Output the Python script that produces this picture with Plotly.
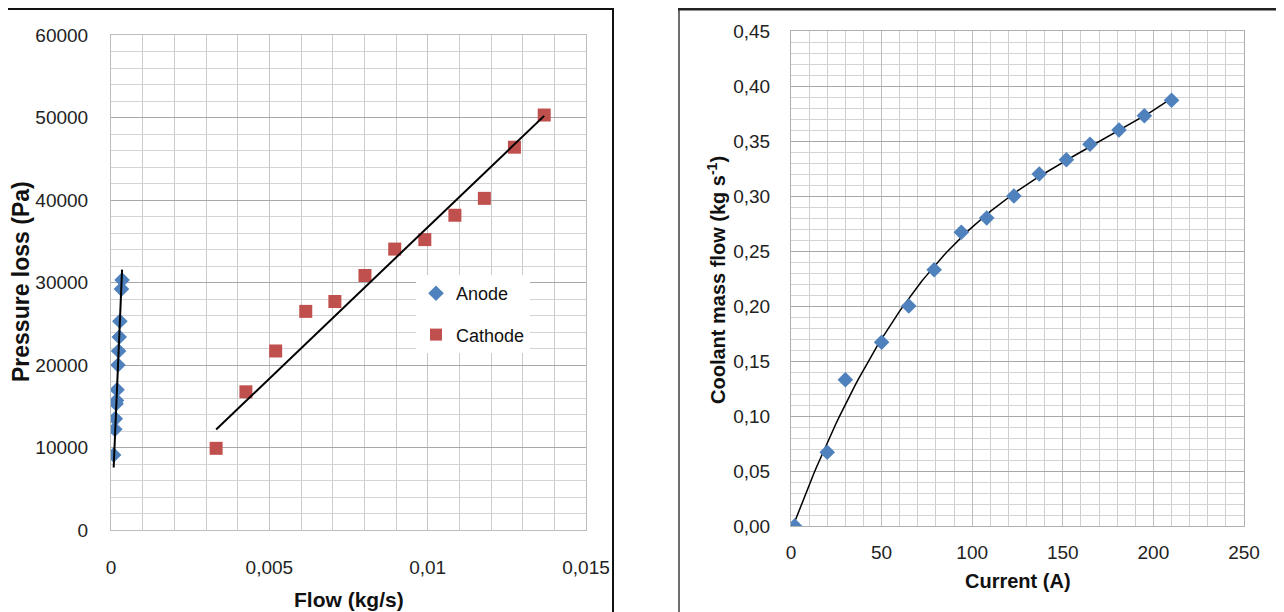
import numpy as np
import plotly.graph_objects as go

# ---------------- data: left chart ----------------
anode_flow = [0.000084, 0.00012, 0.000135, 0.00016, 0.000175, 0.00019, 0.00022, 0.00024,
              0.00026, 0.00028, 0.00033, 0.00035]
anode_dp = [9100, 12200, 13500, 15300, 15700, 17000, 20000, 21700, 23400, 25300, 29200, 30300]

cathode_flow = [0.00332, 0.00426, 0.00520, 0.00615, 0.00707, 0.00802, 0.00896, 0.00991,
                0.01086, 0.01179, 0.01274, 0.01368]
cathode_dp = [9900, 16750, 21700, 26500, 27700, 30850, 34050, 35200, 38150, 40200, 46400, 50300]

# ---------------- data: right chart ----------------
current_a = [2, 20, 30, 50, 65, 79, 94, 108, 123, 137, 152, 165, 181, 195, 210]
coolant_flow = [0.000, 0.067, 0.133, 0.167, 0.200, 0.233, 0.267, 0.280, 0.300, 0.320,
                0.333, 0.347, 0.360, 0.373, 0.387]

left_xticks = [0, 0.005, 0.01, 0.015]
left_xtext = ["0", "0,005", "0,01", "0,015"]
left_yticks = [0, 10000, 20000, 30000, 40000, 50000, 60000]
left_ytext = ["0", "10000", "20000", "30000", "40000", "50000", "60000"]
right_xticks = [0, 50, 100, 150, 200, 250]
right_yticks = [0, 0.05, 0.10, 0.15, 0.20, 0.25, 0.30, 0.35, 0.40, 0.45]
right_ytext = ["0,00", "0,05", "0,10", "0,15", "0,20", "0,25", "0,30", "0,35", "0,40", "0,45"]

# the page body has an 8px margin, so the figure sits at (8, 8) in the window
OFF = 8
W, H = 1284 - OFF, 612 - OFF
BLUE = "#4F81BD"
RED = "#C0504D"


def px_x(p):
    return (p - OFF) / W


def px_y(p):
    return 1 - (p - OFF) / H


# trendlines fitted from the data (linear with zero intercept, polynomial)
def origin_trend(x, y):
    x = np.asarray(x, float)
    y = np.asarray(y, float)
    slope = (x * y).sum() / (x * x).sum()
    xs = np.array([x.min(), x.max()])
    return xs, slope * xs


def poly_trend(x, y, order):
    c = np.polyfit(x, y, order)
    xs = np.linspace(min(x), max(x), 120)
    return xs, np.polyval(c, xs)


ax_x, ax_y = origin_trend(anode_flow, anode_dp)
ca_x, ca_y = origin_trend(cathode_flow, cathode_dp)
cu_x, cu_y = poly_trend(current_a, coolant_flow, 3)

fig = go.Figure()

fig.add_trace(go.Scatter(x=anode_flow, y=anode_dp, mode="markers", name="Anode",
                         marker=dict(symbol="diamond", size=12, color=BLUE),
                         xaxis="x", yaxis="y", legendgroup="a"))
fig.add_trace(go.Scatter(x=cathode_flow, y=cathode_dp, mode="markers", name="Cathode",
                         marker=dict(symbol="square", size=13, color=RED),
                         xaxis="x", yaxis="y", legendgroup="c"))
fig.add_trace(go.Scatter(x=ax_x, y=ax_y, mode="lines", line=dict(color="black", width=2),
                         showlegend=False, xaxis="x", yaxis="y", hoverinfo="skip"))
fig.add_trace(go.Scatter(x=ca_x, y=ca_y, mode="lines", line=dict(color="black", width=2),
                         showlegend=False, xaxis="x", yaxis="y", hoverinfo="skip"))

fig.add_trace(go.Scatter(x=cu_x, y=cu_y, mode="lines", line=dict(color="black", width=1.5),
                         showlegend=False, xaxis="x2", yaxis="y2", hoverinfo="skip"))
fig.add_trace(go.Scatter(x=current_a, y=coolant_flow, mode="markers", name="Coolant",
                         marker=dict(symbol="diamond", size=12, color=BLUE),
                         showlegend=False, xaxis="x2", yaxis="y2"))

TICKFONT_L = dict(family="Liberation Sans, Arial", size=19, color="#222")
TICKFONT_R = dict(family="Liberation Sans, Arial", size=19, color="#222")
MAJ = "#a8a8a8"
MIN = "#d4d4d4"

fig.update_layout(
    width=W, height=H,
    margin=dict(l=0, r=0, t=0, b=0, autoexpand=False),
    paper_bgcolor="white", plot_bgcolor="white",
    showlegend=True,
    legend=dict(x=px_x(416), y=px_y(275), xanchor="left", yanchor="top",
                bgcolor="white", font=dict(family="Liberation Sans, Arial", size=18, color="#111"),
                tracegroupgap=15, itemsizing="constant"),
    xaxis=dict(domain=[px_x(111), px_x(586)], range=[0, 0.015], anchor="y",
               tickvals=left_xticks, ticktext=left_xtext, tickfont=TICKFONT_L,
               showgrid=True, gridcolor="#c4c4c4", gridwidth=1,
               minor=dict(dtick=0.001, showgrid=True, gridcolor="#cccccc", ticks=""),
               showline=True, linecolor="#bdbdbd", mirror=True, automargin=False,
               zeroline=False, ticks="", ticklabelstandoff=20),
    yaxis=dict(domain=[px_y(530), px_y(35)], range=[0, 60000], anchor="x",
               tickvals=left_yticks, ticktext=left_ytext, tickfont=TICKFONT_L,
               showgrid=True, gridcolor=MAJ, gridwidth=1,
               minor=dict(dtick=2000, showgrid=True, gridcolor=MIN, ticks=""),
               showline=True, linecolor="#bdbdbd", mirror=True, automargin=False,
               zeroline=False, ticks="", ticklabelstandoff=18),
    xaxis2=dict(domain=[px_x(791), px_x(1244)], range=[0, 250], anchor="y2",
                tickvals=right_xticks, tickfont=TICKFONT_R,
                showgrid=True, gridcolor="#bdbdbd", gridwidth=1,
                minor=dict(dtick=10, showgrid=True, gridcolor="#cfcfcf", ticks=""),
                showline=True, linecolor="#b0b0b0", mirror=True, automargin=False,
                zeroline=False, ticks="", ticklabelstandoff=9),
    yaxis2=dict(domain=[px_y(526), px_y(31)], range=[0, 0.45], anchor="x2",
                tickvals=right_yticks, ticktext=right_ytext, tickfont=TICKFONT_R,
                showgrid=True, gridcolor=MAJ, gridwidth=1,
                minor=dict(dtick=0.01, showgrid=True, gridcolor=MIN, ticks=""),
                showline=True, linecolor="#b0b0b0", mirror=True, automargin=False,
                zeroline=False, ticks="", ticklabelstandoff=16),
)

# axis titles
fig.add_annotation(text="<b>Pressure loss (Pa)</b>", x=px_x(21), y=px_y(282), xref="paper",
                   yref="paper", textangle=-90, showarrow=False,
                   font=dict(family="Liberation Sans, Arial", size=23, color="#111"),
                   xanchor="center", yanchor="middle")
fig.add_annotation(text="<b>Flow (kg/s)</b>", x=px_x(349), y=px_y(599), xref="paper",
                   yref="paper", showarrow=False,
                   font=dict(family="Liberation Sans, Arial", size=21, color="#111"),
                   xanchor="center", yanchor="middle")
fig.add_annotation(text="<b>Coolant mass flow (kg s<sup>-1</sup>)</b>", x=px_x(716), y=px_y(280),
                   xref="paper", yref="paper", textangle=-90, showarrow=False,
                   font=dict(family="Liberation Sans, Arial", size=20, color="#111"),
                   xanchor="center", yanchor="middle")
fig.add_annotation(text="<b>Current (A)</b>", x=px_x(1018), y=px_y(581), xref="paper",
                   yref="paper", showarrow=False,
                   font=dict(family="Liberation Sans, Arial", size=20, color="#111"),
                   xanchor="center", yanchor="middle")

# outer chart frames
fig.add_shape(type="rect", xref="paper", yref="paper", x0=px_x(6), x1=px_x(613),
              y0=px_y(640), y1=px_y(9), line=dict(color="#111", width=2))
fig.add_shape(type="line", xref="paper", yref="paper", x0=px_x(679), x1=px_x(679),
              y0=px_y(640), y1=px_y(9), line=dict(color="#6e6e6e", width=2))
fig.add_shape(type="line", xref="paper", yref="paper", x0=px_x(1282), x1=px_x(1282),
              y0=px_y(640), y1=px_y(9), line=dict(color="#8a8a8a", width=2))
fig.add_shape(type="line", xref="paper", yref="paper", x0=px_x(678), x1=px_x(1283),
              y0=px_y(9), y1=px_y(9), line=dict(color="#222", width=3))

fig.write_html("out.html")
